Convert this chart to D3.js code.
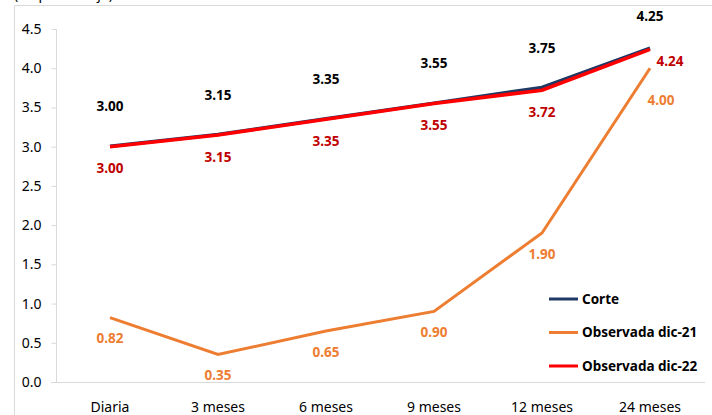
<!DOCTYPE html>
<meta charset="utf-8">
<body style="margin:0;background:#fff">
<script src="https://cdn.jsdelivr.net/npm/d3@7"></script>
<script>

// datos
var categorias = ["Diaria", "3 meses", "6 meses", "9 meses", "12 meses", "24 meses"];
var corte = [3.00, 3.15, 3.35, 3.55, 3.75, 4.25];
var obsDic21 = [0.82, 0.35, 0.65, 0.90, 1.90, 4.00];
var obsDic22 = [3.00, 3.15, 3.35, 3.55, 3.72, 4.24];
var yTicks = [0.0, 0.5, 1.0, 1.5, 2.0, 2.5, 3.0, 3.5, 4.0, 4.5];

var width = 712,
    height = 415;

var font = "'Noto Sans', 'Open Sans', sans-serif";

var svg = d3.select("body").append("svg")
    .attr("width", width)
    .attr("height", height)
    .style("font-family", font);

// marco
svg.append("path")
    .attr("d", "M14.5," + height + "V5.5H" + width)
    .attr("fill", "none")
    .attr("stroke", "#d9d9d9");

// título recortado por el borde superior, como en el original
svg.append("text")
    .attr("x", 14)
    .attr("y", -1)
    .attr("font-size", 14)
    .attr("fill", "#000")
    .text("(en porcentaje)");

var x = d3.scaleBand()
    .domain(categorias)
    .range([56, 704]);

var y = d3.scaleLinear()
    .domain([0, 4.5])
    .range([382, 29]);

// eje y
var yAxis = svg.append("g")
    .attr("transform", "translate(56.5,0)")
    .call(d3.axisLeft(y).tickValues(yTicks).tickFormat(d3.format(".1f")).tickSize(5).tickPadding(10));
yAxis.select(".domain").attr("stroke", "#d9d9d9").attr("d", "M0,29V382.5");
yAxis.selectAll(".tick line").attr("stroke", "#d9d9d9");
yAxis.selectAll(".tick text").attr("font-size", 14).attr("fill", "#000").attr("font-family", font);

// eje x
var xAxis = svg.append("g")
    .attr("transform", "translate(0,382.5)")
    .call(d3.axisBottom(x).tickSize(0).tickPadding(20));
xAxis.select(".domain").attr("stroke", "#d9d9d9").attr("d", "M51,0H705");
xAxis.selectAll(".tick text").attr("font-size", 14).attr("fill", "#000").attr("font-family", font);

var cx = function(i) { return x(categorias[i]) + x.bandwidth() / 2; };

var line = d3.line()
    .x(function(d, i) { return cx(i); })
    .y(function(d) { return y(d); });

svg.append("path").datum(obsDic21)
    .attr("d", line).attr("fill", "none")
    .attr("stroke", "#ED7D31").attr("stroke-width", 3);

svg.append("path").datum(corte)
    .attr("d", line).attr("fill", "none")
    .attr("stroke", "#1F3864").attr("stroke-width", 3.5)
    .attr("transform", "translate(0,-0.4)");

svg.append("path").datum(obsDic22)
    .attr("d", line).attr("fill", "none")
    .attr("stroke", "#FF0000").attr("stroke-width", 3.5);

// etiquetas
function etiquetas(data, color, dx, dy) {
  svg.append("g").selectAll("text")
    .data(data)
    .enter().append("text")
      .attr("x", function(d, i) { return cx(i) + dx(i); })
      .attr("y", function(d, i) { return y(d) + dy(i); })
      .attr("text-anchor", "middle")
      .attr("dy", "0.35em")
      .attr("font-size", 13.5)
      .attr("font-weight", "bold")
      .attr("fill", color)
      .text(function(d) { return d.toFixed(2); });
}

etiquetas(corte, "#000", function() { return 0; }, function(i) { return i === 5 ? -32 : -40; });
etiquetas(obsDic22, "#C00000", function(i) { return i === 5 ? 20 : 0; }, function(i) { return i === 5 ? 12 : 22; });
etiquetas(obsDic21, "#ED7D31", function(i) { return i === 5 ? 11 : 0; }, function(i) { return i === 5 ? 32 : 21; });

// leyenda
var leyenda = [
  {nombre: "Corte", color: "#1F3864"},
  {nombre: "Observada dic-21", color: "#ED7D31"},
  {nombre: "Observada dic-22", color: "#FF0000"}
];

var lg = svg.append("g").selectAll("g")
  .data(leyenda)
  .enter().append("g")
    .attr("transform", function(d, i) { return "translate(549," + (299 + i * 33.5) + ")"; });

lg.append("line")
    .attr("x1", 0).attr("x2", 29)
    .attr("stroke", function(d) { return d.color; })
    .attr("stroke-width", 3);

lg.append("text")
    .attr("x", 33)
    .attr("dy", "0.35em")
    .attr("font-size", 13.5)
    .attr("font-weight", "bold")
    .attr("fill", "#000")
    .text(function(d) { return d.nombre; });

</script>
</body>
